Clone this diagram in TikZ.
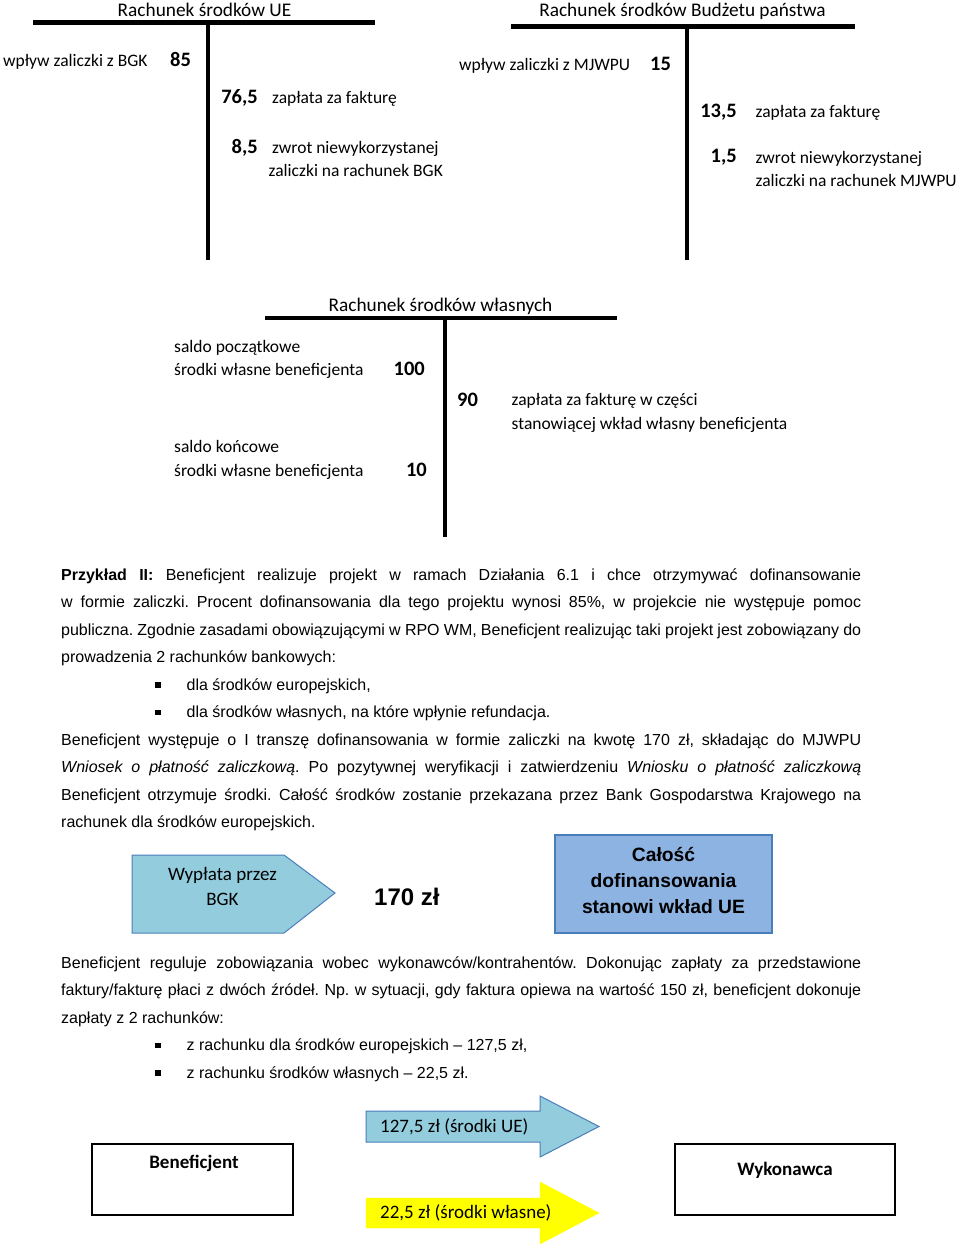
\documentclass[tikz,border=0pt]{standalone}
\usepackage{fontspec}
\setmainfont{Liberation Sans}
\newfontfamily\calibri{Carlito}
\usetikzlibrary{positioning}
\definecolor{cCyan}{HTML}{93CDDD}
\definecolor{cSky}{HTML}{8DB3E2}
\definecolor{cEdge}{HTML}{4A7EBB}
\definecolor{cYel}{HTML}{FFFF00}
\tikzset{
  acct/.style={line width=4.2pt},
  ttl/.style={font=\calibri\fontsize{19.3}{23}\selectfont,inner sep=0pt,anchor=base},
  lbl/.style={font=\calibri\fontsize{17.5}{23.5}\selectfont,inner sep=0pt,align=left,anchor=base west},
  num/.style={font=\calibri\bfseries\fontsize{20.5}{24}\selectfont,inner sep=0pt},
  para/.style={font=\fontsize{16}{27.5}\selectfont\frenchspacing,text width=800pt,align=justify,inner sep=0pt,anchor=base west},
  sig/.style={draw=cEdge,fill=cCyan,line width=1pt},
  ubox/.style={draw=cEdge,fill=cSky,line width=1.2pt,minimum width=217pt,minimum height=98pt,
    align=center,font=\bfseries\fontsize{19.3}{26}\selectfont},
  pbox/.style={draw=black,line width=1.6pt,minimum width=201pt,minimum height=71pt},
  btxt/.style={font=\calibri\bfseries\fontsize{19}{23}\selectfont,inner sep=0pt},
  atxt/.style={font=\calibri\fontsize{19}{23}\selectfont,inner sep=0pt,anchor=west},
}
\newcommand{\bulitem}{\par\hspace*{94pt}\rule[2.5pt]{5.5pt}{5.5pt}\hspace*{26pt}}

\begin{document}
\begin{tikzpicture}[x=1pt,y=-1pt]
\useasboundingbox (0,0) rectangle (960,1249);

% rachunek UE
\draw[acct] (33,22.5) -- (375,22.5);
\draw[acct] (208,22.5) -- (208,260);
\node[ttl] (tue) at (204.5,17) {Rachunek środków UE};
\node[lbl] (ue1) at (3,67) {wpływ zaliczki z BGK};
\node[num,anchor=base west] (ue1n) at (170,67) {85};
\node[num,anchor=base east] (ue2n) at (258,104) {76,5};
\node[lbl] (ue2) at (272,104) {zapłata za fakturę};
\node[num,anchor=base east] (ue3n) at (258,154) {8,5};
\node[lbl] (ue3) at (272,154) {zwrot niewykorzystanej};
\node[lbl] (ue4) at (268.5,177) {zaliczki na rachunek BGK};

% rachunek budzetu
\draw[acct] (511,26.5) -- (855,26.5);
\draw[acct] (687,26.5) -- (687,260);
\node[ttl] (tbp) at (682.5,17) {Rachunek środków Budżetu państwa};
\node[lbl] (bp1) at (459,71) {wpływ zaliczki z MJWPU};
\node[num,anchor=base west] (bp1n) at (650,71) {15};
\node[num,anchor=base east] (bp2n) at (737,118) {13,5};
\node[lbl] (bp2) at (755.5,118) {zapłata za fakturę};
\node[num,anchor=base east] (bp3n) at (737,163) {1,5};
\node[lbl] (bp3) at (755.5,187) {zwrot niewykorzystanej\\zaliczki na rachunek MJWPU};

% rachunek wlasny
\draw[acct] (265,318) -- (617,318);
\draw[acct] (445,318) -- (445,537);
\node[ttl] (tw) at (440.5,311) {Rachunek środków własnych};
\node[lbl] (w1) at (174,352) {saldo początkowe};
\node[lbl] (w2) at (174,375.5) {środki własne beneficjenta};
\node[num,anchor=base east] (w2n) at (425,375.5) {100};
\node[num,anchor=base west] (w3n) at (457,406) {90};
\node[lbl] (w3) at (511.5,429) {zapłata za fakturę w części\\stanowiącej wkład własny beneficjenta};
\node[lbl] (w4) at (174,452) {saldo końcowe};
\node[lbl] (w5) at (174,476) {środki własne beneficjenta};
\node[num,anchor=base east] (w5n) at (427,476) {10};

\node[para] (p1) at (61,580) {\textbf{Przykład II:} Beneficjent realizuje projekt w ramach Działania 6.1 i chce otrzymywać dofinansowanie\linebreak
w formie zaliczki. Procent dofinansowania dla tego projektu wynosi 85\%, w projekcie nie występuje pomoc\linebreak
publiczna. Zgodnie zasadami obowiązującymi w RPO WM, Beneficjent realizując taki projekt jest zobowiązany do\linebreak
prowadzenia 2 rachunków bankowych:
\bulitem dla środków europejskich,
\bulitem dla środków własnych, na które wpłynie refundacja.\par
Beneficjent występuje o I transzę dofinansowania w formie zaliczki na kwotę 170 zł, składając do MJWPU\linebreak
\textit{Wniosek o płatność zaliczkową}. Po pozytywnej weryfikacji i zatwierdzeniu \textit{Wniosku o płatność zaliczkową}\linebreak
Beneficjent otrzymuje środki. Całość środków zostanie przekazana przez Bank Gospodarstwa Krajowego na\linebreak
rachunek dla środków europejskich.};

\draw[sig] (132,855) -- (284,855) -- (335,893) -- (284,933) -- (132,933) -- cycle;
\node[font=\calibri\fontsize{19}{25}\selectfont,align=center,inner sep=0pt,anchor=base] (wyp) at (222.5,905) {Wypłata przez\\BGK};
\node[font=\bfseries\fontsize{24}{28}\selectfont,inner sep=0pt,anchor=base west] (kw) at (374,905) {170 zł};
\node[ubox,text depth=8pt] (cal) at (663.5,884) {Całość\\dofinansowania\\stanowi wkład UE};

\node[para] (p2) at (61,968) {Beneficjent reguluje zobowiązania wobec wykonawców/kontrahentów. Dokonując zapłaty za przedstawione\linebreak
faktury/fakturę płaci z dwóch źródeł. Np. w sytuacji, gdy faktura opiewa na wartość 150 zł, beneficjent dokonuje\linebreak
zapłaty z 2 rachunków:
\bulitem z rachunku dla środków europejskich -- 127,5 zł,
\bulitem z rachunku środków własnych -- 22,5 zł.};

\node[pbox] (ben) at (192.5,1179.5) {};
\node[btxt] (bent) at (194,1163) {Beneficjent};
\node[pbox,minimum width=220pt] (wyk) at (785,1179.5) {};
\node[btxt] (wykt) at (785,1170) {Wykonawca};

\draw[sig] (366,1111) -- (540,1111) -- (540,1096) -- (599,1126.5) -- (540,1157) -- (540,1142) -- (366,1142) -- cycle;
\node[atxt] (ue) at (380,1127) {127,5 zł (środki UE)};
\draw[fill=cYel,draw=cYel] (366,1198) -- (540,1198) -- (540,1182) -- (599,1213) -- (540,1244) -- (540,1228) -- (366,1228) -- cycle;
\node[atxt] (wl) at (380,1213) {22,5 zł (środki własne)};
\end{tikzpicture}
\end{document}
